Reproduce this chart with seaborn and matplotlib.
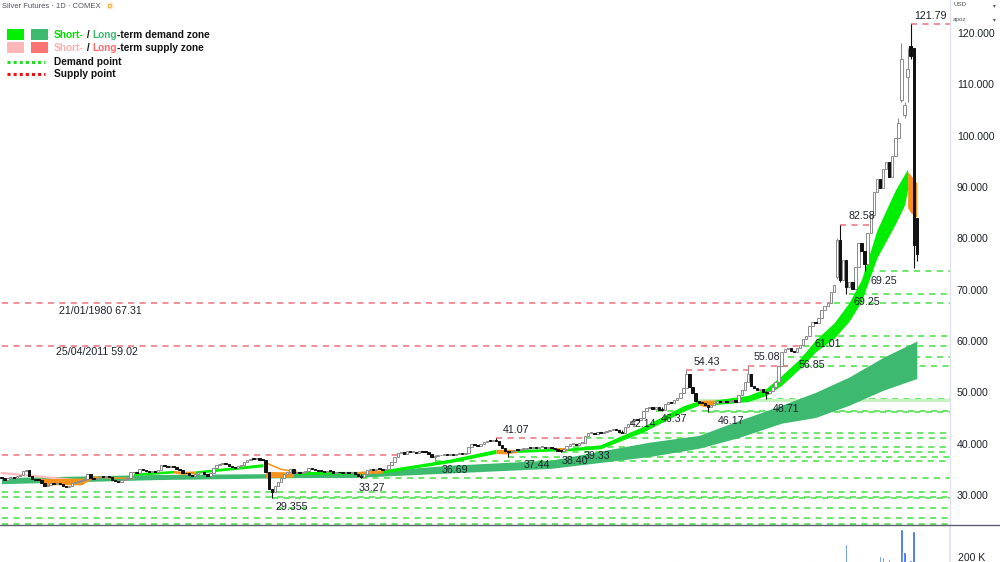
import numpy as np
import pandas as pd
import seaborn as sns
import matplotlib
matplotlib.use("Agg")
import matplotlib.pyplot as plt
from matplotlib.lines import Line2D
from matplotlib.patches import Rectangle

W, H = 1000, 562

# daily closes, oldest first (USD)
closes = [
    33.3, 33.0, 33.4, 33.6, 33.3, 33.8, 33.9, 34.6, 34.9, 33.7,
    33.2, 33.0, 32.9, 32.4, 31.8, 32.0, 32.3, 32.2, 32.4, 32.1,
    31.7, 31.6, 31.8, 32.3, 32.6, 32.8, 33.0, 33.1, 34.0, 33.4,
    33.2, 33.3, 33.6, 33.5, 33.7, 33.6, 33.0, 32.7, 32.6, 32.9,
    33.1, 33.3, 34.4, 34.5, 34.3, 35.0, 34.8, 34.6, 34.5, 34.7,
    34.4, 34.9, 35.8, 35.6, 35.5, 35.7, 35.4, 35.0, 34.9, 34.3,
    34.2, 33.9, 33.8, 34.0, 34.4, 34.5, 34.0, 33.8, 34.3, 35.2,
    35.9, 36.1, 36.2, 36.0, 35.6, 35.4, 35.3, 35.6, 35.9, 36.4,
    36.9, 37.1, 37.0, 37.2, 36.9, 36.8, 34.4, 31.2, 30.5, 31.8,
    32.5, 33.3, 34.0, 34.5, 35.0, 34.2, 34.5, 34.3, 34.4, 34.7,
    35.3, 35.0, 34.8, 34.7, 34.6, 34.5, 34.7, 34.6, 34.3, 34.5,
    34.4, 34.3, 34.5, 34.2, 34.4, 34.0, 33.7, 33.5, 34.0, 34.8,
    35.0, 34.9, 35.1, 35.0, 34.9, 35.1, 35.9, 36.4, 37.4, 38.1,
    38.3, 38.0, 38.5, 38.3, 38.4, 38.2, 38.6, 38.4, 38.3, 37.9,
    37.5, 37.6, 37.7, 37.8, 37.9, 37.7, 38.0, 37.8, 38.0, 38.1,
    37.9, 38.2, 39.3, 40.0, 39.8, 39.6, 39.9, 40.3, 40.6, 40.5,
    40.8, 40.6, 39.8, 39.2, 38.5, 38.3, 38.6, 38.8, 38.7, 38.9,
    39.0, 39.2, 39.1, 39.3, 39.2, 39.3, 39.4, 39.2, 39.3, 39.1,
    39.0, 38.6, 38.5, 39.0, 39.6, 40.0, 40.0, 39.8, 40.1, 40.2,
    41.4, 42.0, 42.1, 41.9, 42.2, 42.0, 42.3, 42.4, 42.6, 42.8,
    42.7, 42.2, 42.0, 43.2, 43.8, 44.5, 44.8, 44.6, 45.0, 46.3,
    47.0, 47.2, 46.8, 47.1, 46.6, 46.5, 47.8, 48.2, 48.0, 48.6,
    48.9, 49.8, 50.8, 53.6, 51.0, 49.8, 48.4, 48.0, 47.9, 47.5,
    47.2, 47.6, 48.0, 48.3, 48.2, 48.4, 48.1, 48.3, 48.5, 48.2,
    49.5, 50.5, 52.0, 53.5, 51.3, 50.9, 50.5, 50.7, 50.1, 49.9,
    50.2, 51.0, 52.0, 55.2, 57.8, 58.4, 58.7, 58.0, 57.8, 58.6,
    59.2, 60.3, 61.0, 63.0, 63.8, 63.5, 64.5, 66.0, 66.8, 67.5,
    69.5, 71.0, 79.6, 71.8, 75.8, 70.5, 71.5, 70.2, 74.5, 79.0,
    77.5, 75.0, 81.0, 84.5, 89.0, 91.5, 89.8, 93.5, 94.8, 92.0,
    96.0, 99.5, 102.5, 115.0, 106.0, 113.0, 115.5, 78.7, 77.0,
]
first_open = 33.5
# opens that gap away from the previous close
open_gaps = {272: 72.4, 293: 107.0, 294: 104.0, 295: 111.5, 296: 117.5, 297: 117.0, 298: 84.0}
# visible wicks: index -> (high, low)
wick_hi_lo = {
    88: (31.2, 29.355), 117: (34.0, 33.27), 141: (37.8, 36.69), 161: (41.07, 40.5),
    165: (38.6, 37.44), 182: (38.8, 38.40), 202: (42.7, 42.14), 215: (47.1, 46.37),
    223: (54.43, 50.8), 230: (47.6, 46.17), 243: (55.08, 52.0), 249: (50.2, 48.71),
    272: (80.0, 72.0), 273: (82.58, 71.5), 275: (75.8, 69.25), 281: (77.5, 73.6),
    292: (103.5, 99.5), 293: (118.0, 106.5), 294: (106.5, 103.5), 295: (117.0, 106.5),
    296: (121.79, 115.0), 297: (117.0, 74.2), 298: (84.0, 75.5),
}

# long-term demand zone
lt_idx = [0, 50, 97, 114, 146, 179, 211, 227, 240, 254, 265, 276, 287, 298]
lt_top = [33.4, 34.0, 34.2, 34.3, 35.8, 36.8, 40.3, 41.6, 44.5, 47.5, 50.0, 53.0, 56.8, 60.0]
lt_bot = [32.2, 33.0, 33.4, 33.4, 34.3, 35.2, 37.5, 39.1, 41.2, 44.0, 45.1, 47.5, 50.4, 52.7]

# short-term demand zone, segments of (index, top, bottom)
st_demand = [
    [(43, 34.3, 33.8), (56, 34.8, 34.3)],
    [(63, 34.7, 34.2), (85, 36.1, 35.5)],
    [(96, 34.6, 34.0), (116, 34.6, 34.1)],
    [(124, 34.9, 34.3), (146, 37.0, 36.3), (161, 38.9, 38.1)],
    [(168, 38.9, 38.3), (181, 39.1, 38.6)],
    [(184, 39.1, 38.6), (195, 39.8, 39.0), (209, 43.4, 42.3), (222, 47.4, 46.3), (227, 48.4, 47.5)],
    [(232, 48.5, 47.6), (243, 49.4, 48.2), (249, 50.8, 49.4), (254, 53.3, 51.4), (260, 56.6, 54.7),
     (265, 60.2, 57.9), (271, 63.5, 60.5), (276, 67.5, 63.9), (280, 72.0, 67.8), (285, 81.6, 76.2),
     (291, 89.4, 82.8), (294, 92.5, 86.5), (295, 93.5, 89.5)],
]
# short-term zone where price trades below it
st_below = [
    [(12, 33.3, 32.8), (15, 33.2, 32.0), (26, 33.3, 32.0), (29, 33.4, 33.0)],
    [(56, 34.8, 34.3), (59, 34.6, 34.0), (63, 34.7, 34.2)],
    [(86, 34.6, 33.4), (95, 34.5, 33.5)],
    [(116, 34.6, 34.1), (120, 34.8, 34.2), (124, 34.9, 34.3)],
    [(161, 38.9, 38.1), (164, 38.9, 38.0), (168, 38.9, 38.3)],
    [(181, 39.1, 38.6), (184, 39.1, 38.6)],
    [(227, 48.4, 47.5), (229, 48.5, 47.2), (232, 48.5, 47.6)],
    [(295, 93.0, 86.0), (296, 92.3, 85.0), (298, 90.8, 84.1)],
]
st_supply_line = [(0, 34.3), (26, 32.8)]
st_orange_lines = [[(29, 33.5), (43, 33.2)], [(86, 36.3), (91, 35.0), (96, 34.5)]]

# demand points (level, first index)
demand_lvl = [73.6, 69.25, 67.31, 61.01, 59.02, 56.85, 55.08, 48.71, 46.37, 46.17, 42.14, 41.07,
              39.33, 38.40, 37.44, 36.69, 33.27, 30.5, 29.6, 29.355, 27.4, 25.6, 24.45]
demand_from = [282, 276, 271, 265, 261, 256, 254, 249, 213, 230, 201, 190,
               186, 182, 165, 141, 117, 0, 0, 88, 0, 0, 0]
light_band = (48.2, 48.71, 226)

# supply points (level, first index, last index)
supply_lvl = [67.31, 59.02, 37.74, 41.07, 54.43, 55.08, 82.58, 121.79]
supply_from = [0, 0, 0, 161, 223, 243, 273, 296]
supply_to = [271, 261, 130, 190, 243, 256, 283, 309]

point_text = ["121.79", "82.58", "69.25", "69.25", "61.01", "56.85", "55.08", "54.43", "48.71",
              "46.17", "46.37", "42.14", "41.07", "39.33", "38.40", "37.44", "36.69", "33.27",
              "29.355", "21/01/1980 67.31", "25/04/2011 59.02"]
# label anchors (index, price)
point_xy = [(302.6, 123.3), (280.1, 84.35), (287.3, 71.7), (281.7, 67.6), (269.0, 59.4),
            (263.8, 55.3), (249.2, 56.9), (229.7, 55.9), (255.4, 46.75), (237.5, 44.4),
            (218.9, 44.8), (208.8, 43.9), (167.5, 42.7), (194.0, 37.6), (186.6, 36.6),
            (174.3, 35.8), (147.6, 34.9), (120.6, 31.4), (94.6, 27.7), (32.1, 65.8), (31.1, 57.85)]

# volume (thousands), only the bars that reach into view
vol_idx = [219, 264, 275, 286, 287, 289, 293, 294, 296, 297]
vol_k = [181, 181, 260, 205, 200, 191, 330, 223, 186, 321]

price_ticks = list(range(30, 121, 10))


def main():
    sns.set_theme(style="white")
    plt.rcParams["font.family"] = ["Liberation Sans", "DejaVu Sans"]

    n = len(closes)
    idx = np.arange(n)
    opens = np.r_[first_open, closes[:-1]]
    for k, v in open_gaps.items():
        opens[k] = v
    df = pd.DataFrame({"i": idx, "open": opens, "close": closes})
    df["high"] = df[["open", "close"]].max(axis=1)
    df["low"] = df[["open", "close"]].min(axis=1)
    for k, (hi, lo) in wick_hi_lo.items():
        df.loc[k, "high"] = hi
        df.loc[k, "low"] = lo
    up = df.close >= df.open

    fig = plt.figure(figsize=(W / 100, H / 100), dpi=100)
    ax = fig.add_axes([0, 37 / H, 950 / W, 525 / H])
    ax.set_xlim(-0.49, 308.8)
    ax.set_ylim(24.16, 126.43)

    # demand / supply points
    green = "#44e044"
    for lvl, start in zip(demand_lvl, demand_from):
        ax.hlines(lvl, start, 310, colors=green, lw=1.1, linestyles=(0, (4, 3.5)), zorder=1)
    ax.fill_between([light_band[2], 310], light_band[0], light_band[1], color="#c4f3bd", lw=0, zorder=1)
    for lvl, a, b in zip(supply_lvl, supply_from, supply_to):
        ax.hlines(lvl, a, b, colors="#f0707c", lw=1.1, linestyles=(0, (4, 3.5)), zorder=1)

    # zones
    ax.fill_between(lt_idx, lt_bot, lt_top, color="#3dba6f", lw=0, zorder=2)
    for seg in st_demand:
        s = np.array(seg)
        ax.fill_between(s[:, 0], s[:, 2], s[:, 1], color="#00ee00", lw=0, zorder=2.2)
    for seg in st_below:
        s = np.array(seg)
        ax.fill_between(s[:, 0], s[:, 2], s[:, 1], color="#f7931a", lw=0, zorder=2.3)
    s = np.array(st_supply_line)
    sns.lineplot(x=s[:, 0], y=s[:, 1], ax=ax, color="#ffbcbc", lw=1.6, zorder=2.1)
    for seg in st_orange_lines:
        s = np.array(seg)
        sns.lineplot(x=s[:, 0], y=s[:, 1], ax=ax, color="#f7931a", lw=1.1, zorder=2.1)

    # candles
    u, d = df[up], df[~up]
    ax.vlines(u.i, u.low, u.high, color="#8c8c8c", lw=0.8, zorder=3)
    ax.vlines(d.i, d.low, d.high, color="#111111", lw=0.8, zorder=3)
    ax.bar(u.i, np.maximum(u.close - u.open, 0.18), bottom=u.open, width=0.8,
           facecolor="white", edgecolor="#8c8c8c", linewidth=0.7, zorder=3.5)
    ax.bar(d.i, np.maximum(d.open - d.close, 0.18), bottom=d.close, width=0.8,
           facecolor="#111111", edgecolor="#111111", linewidth=0.7, zorder=3.5)

    for txt, (xi, yp) in zip(point_text, point_xy):
        ax.text(xi, yp, txt, ha="center", va="center", fontsize=7.7, color="#1e222d", zorder=6)

    ax.set_xticks([])
    ax.yaxis.tick_right()
    ax.set_yticks(price_ticks)
    ax.set_yticklabels([f"{v:.3f}" for v in price_ticks])
    ax.tick_params(axis="y", length=0, pad=5, labelsize=7.6, labelcolor="#1e222d")
    for side in ["left", "top", "bottom"]:
        ax.spines[side].set_visible(False)
    ax.spines["right"].set_color("#e0e3eb")
    ax.spines["right"].set_linewidth(1)

    # volume pane (runs below the visible frame)
    axv = fig.add_axes([0, -38 / H, 950 / W, 75 / H])
    axv.set_xlim(-0.49, 308.8)
    axv.set_ylim(0, 348.8)
    axv.bar(vol_idx, vol_k, width=0.85, color="#2962ff", zorder=2)
    axv.set_xticks([])
    axv.yaxis.tick_right()
    axv.set_yticks([200])
    axv.set_yticklabels(["200 K"])
    axv.tick_params(axis="y", length=0, pad=6, labelsize=7.6, labelcolor="#1e222d")
    for side in ["left", "top", "bottom"]:
        axv.spines[side].set_visible(False)
    axv.spines["right"].set_color("#e0e3eb")
    axv.patch.set_alpha(0)

    fig.add_artist(Line2D([0, 1], [1 - 525 / H] * 2, transform=fig.transFigure, color="#5d606b", lw=1))

    # header
    fig.text(2 / W, 1 - 6 / H, "Silver Futures · 1D · COMEX", fontsize=5.5, color="#50535e", va="center")
    fig.text(110 / W, 1 - 6 / H, "D", fontsize=4.5, color="#f7a21b", ha="center", va="center", weight="bold",
             bbox=dict(boxstyle="circle,pad=0.2", fc="#fdebd0", ec="none"))
    fig.text(953 / W, 1 - 5 / H, "USD", fontsize=4.5, color="#50535e", va="center")
    fig.text(953 / W, 1 - 19 / H, "apoz", fontsize=4.5, color="#50535e", va="center")
    fig.text(996 / W, 1 - 6 / H, "▾", fontsize=4, color="#50535e", ha="right", va="center")
    fig.text(996 / W, 1 - 20 / H, "▾", fontsize=4, color="#50535e", ha="right", va="center")

    # legend
    rend = fig.canvas.get_renderer()

    def rich(x, y, parts):
        for s, c in parts:
            t = fig.text(x / W, 1 - y / H, s, color=c, fontsize=7.3, fontweight="bold",
                         ha="left", va="center")
            x += t.get_window_extent(renderer=rend).width

    for x0, y0, col in [(7, 29, "#00f000"), (31, 29, "#3dba6f"), (7, 42, "#ffb6b6"), (31, 42, "#ff7373")]:
        fig.add_artist(Rectangle((x0 / W, 1 - (y0 + 11) / H), 17 / W, 11 / H,
                                 transform=fig.transFigure, color=col, lw=0))
    for y0, col in [(62, "#22e022"), (74, "#ee1111")]:
        fig.add_artist(Line2D([7 / W, 45 / W], [1 - y0 / H] * 2, transform=fig.transFigure,
                              color=col, lw=2.2, linestyle=(0, (1, 1))))
    rich(54, 35, [("Short-", "#00e000"), (" / ", "#111111"), ("Long", "#3dba6f"),
                  ("-term demand zone", "#111111")])
    rich(54, 48, [("Short-", "#ffb0b0"), (" / ", "#111111"), ("Long", "#ff6b6b"),
                  ("-term supply zone", "#111111")])
    rich(54, 62, [("Demand point", "#111111")])
    rich(54, 74, [("Supply point", "#111111")])

    fig.savefig("out.png", dpi=100)


if __name__ == "__main__":
    main()
